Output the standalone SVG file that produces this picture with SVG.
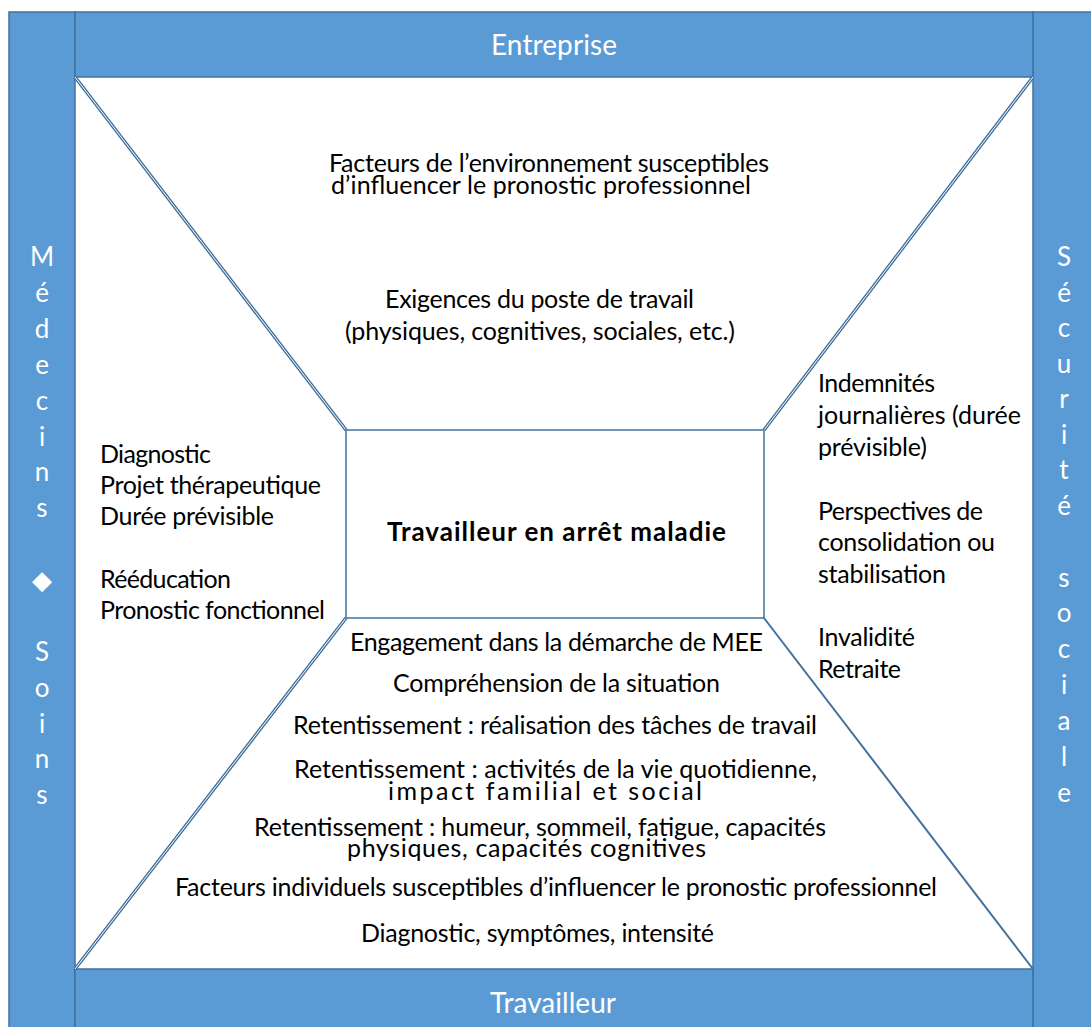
<svg xmlns="http://www.w3.org/2000/svg" width="1091" height="1027" viewBox="0 0 1091 1027">
<style>
.bar{fill:#5B9BD5;stroke:#41719C;stroke-width:1.5}
.hdr{font-family:Lato,"Liberation Sans",sans-serif;font-size:28px;fill:#ffffff}
.vt{font-family:Lato,"Liberation Sans",sans-serif;font-size:26px;fill:#ffffff;text-anchor:middle}
.t{font-family:Lato,"Liberation Sans",sans-serif;font-size:25px;fill:#000000}
.b{font-family:Lato,"Liberation Sans",sans-serif;font-size:26px;font-weight:bold;fill:#000000}
.dl{stroke:#41719C;stroke-width:3.5;fill:none}
.dli{stroke:#ffffff;stroke-width:1;fill:none}
.sl{stroke:#41719C;stroke-width:2;fill:none}
.box{fill:none;stroke:#41719C;stroke-width:1.5}
</style>
<rect width="1091" height="1027" fill="#ffffff"/>
<g id="medecins">
<rect class="bar" x="9" y="12" width="66" height="1030"/>
<text class="vt" x="42">
<tspan x="42" y="266">M</tspan><tspan x="42" y="302">é</tspan><tspan x="42" y="338">d</tspan><tspan x="42" y="374">e</tspan><tspan x="42" y="410">c</tspan><tspan x="42" y="446">i</tspan><tspan x="42" y="481">n</tspan><tspan x="42" y="517">s</tspan><tspan x="42" y="589">◆</tspan><tspan x="42" y="661">S</tspan><tspan x="42" y="697">o</tspan><tspan x="42" y="733">i</tspan><tspan x="42" y="768">n</tspan><tspan x="42" y="804">s</tspan>
</text>
</g>
<g id="securite">
<rect class="bar" x="1033" y="12" width="70" height="1030"/>
<text class="vt" x="1064">
<tspan x="1064" y="266">S</tspan><tspan x="1064" y="302">é</tspan><tspan x="1064" y="337">c</tspan><tspan x="1064" y="373">u</tspan><tspan x="1064" y="408">r</tspan><tspan x="1064" y="444">i</tspan><tspan x="1064" y="479">t</tspan><tspan x="1064" y="515">é</tspan><tspan x="1064" y="587">s</tspan><tspan x="1064" y="622">o</tspan><tspan x="1064" y="658">c</tspan><tspan x="1064" y="694">i</tspan><tspan x="1064" y="730">a</tspan><tspan x="1064" y="766">l</tspan><tspan x="1064" y="802">e</tspan>
</text>
</g>
<g id="entreprise">
<rect class="bar" x="75" y="12" width="958" height="65"/>
<text class="hdr" x="491" y="55" textLength="126">Entreprise</text>
</g>
<g id="travailleur">
<rect class="bar" x="75" y="969" width="958" height="70"/>
<text class="hdr" x="490" y="1013" textLength="126">Travailleur</text>
</g>
<g id="connectors">
<line class="dl" x1="75" y1="77" x2="346" y2="430"/>
<line class="dli" x1="75" y1="77" x2="346" y2="430"/>
<line class="dl" x1="1033" y1="77" x2="764" y2="430"/>
<line class="dli" x1="1033" y1="77" x2="764" y2="430"/>
<line class="dl" x1="346" y1="618" x2="75" y2="969"/>
<line class="dli" x1="346" y1="618" x2="75" y2="969"/>
<line class="sl" x1="764" y1="618" x2="1033" y2="969"/>
</g>
<g id="centre">
<rect class="box" x="346" y="430" width="418" height="188"/>
<text class="b" x="387" y="541" textLength="339">Travailleur en arrêt maladie</text>
</g>
<g id="haut">
<text class="t" x="329" y="172" textLength="440">Facteurs de l’environnement susceptibles</text>
<text class="t" x="331" y="194" textLength="420">d’influencer le pronostic professionnel</text>
<text class="t" x="385" y="308" textLength="309">Exigences du poste de travail</text>
<text class="t" x="345" y="340" textLength="390">(physiques, cognitives, sociales, etc.)</text>
</g>
<g id="gauche">
<text class="t" x="100" y="463" textLength="111">Diagnostic</text>
<text class="t" x="100" y="494" textLength="221">Projet thérapeutique</text>
<text class="t" x="100" y="525" textLength="174">Durée prévisible</text>
<text class="t" x="100" y="588" textLength="131">Rééducation</text>
<text class="t" x="100" y="619" textLength="225">Pronostic fonctionnel</text>
</g>
<g id="droite">
<text class="t" x="818" y="392" textLength="117">Indemnités</text>
<text class="t" x="818" y="424" textLength="203">journalières (durée</text>
<text class="t" x="818" y="456" textLength="109">prévisible)</text>
<text class="t" x="818" y="520" textLength="165">Perspectives de</text>
<text class="t" x="818" y="551" textLength="177">consolidation ou</text>
<text class="t" x="818" y="583" textLength="128">stabilisation</text>
<text class="t" x="818" y="646" textLength="97">Invalidité</text>
<text class="t" x="818" y="678" textLength="83">Retraite</text>
</g>
<g id="bas">
<text class="t" x="350" y="651" textLength="413">Engagement dans la démarche de MEE</text>
<text class="t" x="393" y="692" textLength="327">Compréhension de la situation</text>
<text class="t" x="293" y="734" textLength="524">Retentissement : réalisation des tâches de travail</text>
<text class="t" x="294" y="778" textLength="523">Retentissement : activités de la vie quotidienne,</text>
<text class="t" x="388" y="800" textLength="314">impact familial et social</text>
<text class="t" x="254" y="836" textLength="572">Retentissement : humeur, sommeil, fatigue, capacités</text>
<text class="t" x="347" y="857" textLength="359">physiques, capacités cognitives</text>
<text class="t" x="175" y="896" textLength="762">Facteurs individuels susceptibles d’influencer le pronostic professionnel</text>
<text class="t" x="361" y="942" textLength="353">Diagnostic, symptômes, intensité</text>
</g>
</svg>
